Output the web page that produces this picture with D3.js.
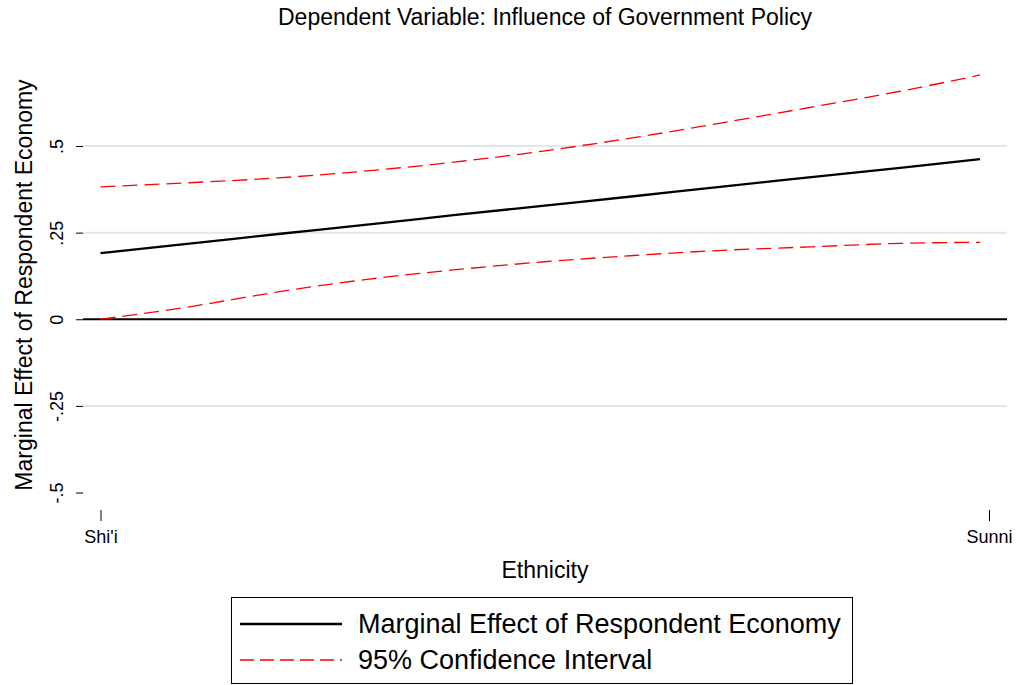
<!DOCTYPE html>
<html>
<head>
<meta charset="utf-8">
<script src="https://cdn.jsdelivr.net/npm/d3@7"></script>
<style>
  html, body { margin: 0; padding: 0; background: #fff; }
  svg { display: block; font-family: "Liberation Sans", Arial, Helvetica, sans-serif; }
</style>
</head>
<body>
<svg id="chart" width="1018" height="685"></svg>
<script>
// ---- data ----
const title = "Dependent Variable: Influence of Government Policy";
const yTitle = "Marginal Effect of Respondent Economy";
const xTitle = "Ethnicity";
const categories = ["Shi'i", "Sunni"];
const categoryPos = [0, 1];
const yTicks = [-0.5, -0.25, 0, 0.25, 0.5];
const yTickLabels = ["-.5", "-.25", "0", ".25", ".5"];
const gridValues = [0.5, 0.25, -0.25];
const ethnicity = [0, 0.1, 0.2, 0.3, 0.4, 0.5, 0.6, 0.7, 0.8, 0.9, 0.99];
const marginalEffect = [0.191, 0.218, 0.246, 0.273, 0.301, 0.328, 0.355, 0.383, 0.410, 0.437, 0.462];
const upperCI = [0.382, 0.394, 0.408, 0.428, 0.454, 0.486, 0.524, 0.567, 0.612, 0.658, 0.705];
const lowerCI = [0.000, 0.036, 0.079, 0.115, 0.143, 0.166, 0.184, 0.199, 0.209, 0.219, 0.222];
const legendLabels = ["Marginal Effect of Respondent Economy", "95% Confidence Interval"];

// ---- layout ----
const svg = d3.select("#chart");
const x = d3.scaleLinear().domain([0, 1]).range([100.5, 989]);
const y = d3.scaleLinear().domain([-0.5, 0.5]).range([492.5, 146]);
const plotLeft = 83, plotRight = 1007;

// gridlines
svg.append("g").selectAll("line").data(gridValues).join("line")
  .attr("x1", plotLeft).attr("x2", plotRight)
  .attr("y1", d => y(d)).attr("y2", d => y(d))
  .attr("stroke", "#e6e6e6").attr("stroke-width", 2);

// zero line
svg.append("line")
  .attr("x1", plotLeft).attr("x2", plotRight)
  .attr("y1", y(0)).attr("y2", y(0))
  .attr("stroke", "#000").attr("stroke-width", 2.2);

// y axis
const yAxis = d3.axisLeft(y).tickValues(yTicks)
  .tickFormat((d, i) => yTickLabels[i]).tickSize(7).tickPadding(0);
const gy = svg.append("g").attr("transform", `translate(${plotLeft},0)`).call(yAxis);
gy.select(".domain").remove();
gy.selectAll(".tick line").attr("stroke", "#000").attr("stroke-width", 1);
gy.selectAll(".tick text")
  .attr("x", 0).attr("y", 0).attr("dy", null)
  .attr("transform", "translate(-20,0) rotate(-90)")
  .attr("text-anchor", "middle")
  .attr("font-size", 18).attr("fill", "#000")
  .style("font-family", '"Liberation Sans", Arial, sans-serif');

// x axis
const xAxis = d3.axisBottom(x).tickValues(categoryPos)
  .tickFormat((d, i) => categories[i]).tickSize(11).tickPadding(0);
const gx = svg.append("g").attr("transform", `translate(0,510)`).call(xAxis);
gx.select(".domain").remove();
gx.selectAll(".tick line").attr("stroke", "#000").attr("stroke-width", 1);
gx.selectAll(".tick text")
  .attr("y", 33).attr("dy", null)
  .attr("font-size", 18).attr("fill", "#000")
  .style("font-family", '"Liberation Sans", Arial, sans-serif');

// lines
const lineGen = vals => d3.line()
  .x((d, i) => x(ethnicity[i]))
  .y(d => y(d))
  .curve(d3.curveMonotoneX)(vals);

svg.append("path").attr("d", lineGen(upperCI))
  .attr("fill", "none").attr("stroke", "#ff0000").attr("stroke-width", 1.3)
  .attr("stroke-dasharray", "15,7");
svg.append("path").attr("d", lineGen(lowerCI))
  .attr("fill", "none").attr("stroke", "#ff0000").attr("stroke-width", 1.3)
  .attr("stroke-dasharray", "15,7");
svg.append("path").attr("d", lineGen(marginalEffect))
  .attr("fill", "none").attr("stroke", "#000").attr("stroke-width", 2.3);

// titles
svg.append("text").attr("x", 545).attr("y", 25)
  .attr("text-anchor", "middle").attr("font-size", 23).text(title);
svg.append("text").attr("transform", "translate(32,285) rotate(-90)")
  .attr("text-anchor", "middle").attr("font-size", 23).text(yTitle);
svg.append("text").attr("x", 545).attr("y", 578)
  .attr("text-anchor", "middle").attr("font-size", 23).text(xTitle);

// legend
const lg = svg.append("g");
lg.append("rect").attr("x", 231.5).attr("y", 597.5).attr("width", 621).attr("height", 86)
  .attr("fill", "#fff").attr("stroke", "#000").attr("stroke-width", 1);
const legendStyles = [
  { stroke: "#000", width: 2.5, dash: null },
  { stroke: "#ff0000", width: 1.3, dash: "14,6" }
];
legendLabels.forEach((lab, i) => {
  const yy = 624 + i * 36;
  lg.append("line").attr("x1", 240).attr("x2", 342).attr("y1", yy).attr("y2", yy)
    .attr("stroke", legendStyles[i].stroke).attr("stroke-width", legendStyles[i].width)
    .attr("stroke-dasharray", legendStyles[i].dash);
  lg.append("text").attr("x", 358).attr("y", yy + 9).attr("font-size", 27).text(lab);
});
</script>
</body>
</html>
